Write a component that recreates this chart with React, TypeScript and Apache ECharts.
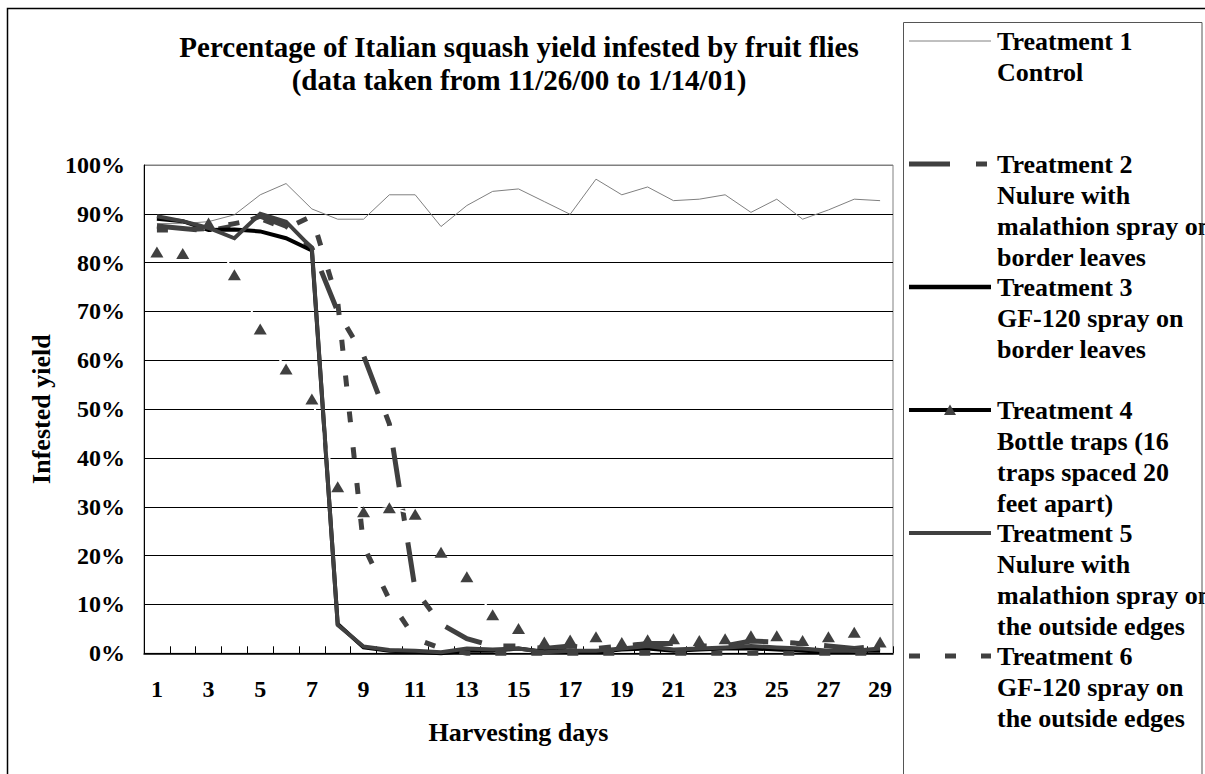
import React, { useEffect, useRef } from "react";
import * as echarts from "echarts";

const FONT = "'Liberation Serif', 'Times New Roman', serif";

const TITLE_LINES = [
  "Percentage of Italian squash yield infested by fruit flies",
  "(data taken from 11/26/00 to 1/14/01)",
];
const X_NAME = "Harvesting days";
const Y_NAME = "Infested yield";

const DAYS = [
  "1", "2", "3", "4", "5", "6", "7", "8", "9", "10",
  "11", "12", "13", "14", "15", "16", "17", "18", "19", "20",
  "21", "22", "23", "24", "25", "26", "27", "28", "29",
];

const T1_CONTROL = [
  88.0, 88.0, 88.4, 89.8, 93.9, 96.2, 91.0, 88.9, 88.9, 93.9,
  93.9, 87.4, 91.7, 94.6, 95.1, 92.5, 89.9, 97.1, 93.9, 95.5,
  92.7, 93.0, 93.9, 90.3, 93.0, 88.9, 90.8, 93.0, 92.7,
];
const T2_NULURE_BORDER = [
  87.5, 87.0, 86.5, 87.5, 89.5, 87.5, 83.0, 70.0, 61.0, 47.0,
  13.0, 6.0, 3.0, 1.5, 1.5, 1.0, 1.5, 1.0, 1.5, 2.0,
  2.0, 1.5, 1.5, 2.5, 2.3, 2.0, 1.5, 1.0, 1.5,
];
const T3_GF120_BORDER = [
  89.0, 88.5, 86.7, 86.8, 86.4, 85.0, 82.5, 6.0, 1.2, 0.5,
  0.3, 0.0, 0.5, 0.5, 1.0, 0.3, 0.5, 0.3, 0.8, 1.0,
  0.5, 0.8, 1.0, 1.0, 0.8, 0.5, 0.3, 0.5, 0.5,
];
const T4_BOTTLE_TRAPS = [
  82.2, 81.9, 88.1, 77.5, 66.4, 58.2, 52.1, 34.1, 29.0, 29.8,
  28.5, 20.7, 15.7, 7.9, 5.1, 2.3, 2.7, 3.4, 2.2, 2.8,
  3.0, 2.6, 3.0, 3.6, 3.6, 2.6, 3.4, 4.3, 2.3,
];
const T5_NULURE_EDGES = [
  89.5, 88.5, 87.1, 85.0, 90.0, 88.4, 83.0, 5.8, 1.4, 0.7,
  0.5, 0.2, 1.0, 0.8, 1.0, 0.2, 0.5, 0.5, 1.0, 1.5,
  0.8, 1.0, 1.2, 1.5, 1.2, 1.0, 0.5, 0.5, 1.0,
];
const T6_GF120_EDGES = [
  86.7, 86.7, 87.0, 88.0, 89.0, 87.0, 89.5, 72.0, 22.0, 11.0,
  3.0, 1.0, 0.0, 0.0, 0.0, 0.0, 0.0, 0.0, 0.0, 0.0,
  0.0, 0.0, 0.0, 0.0, 0.0, 0.0, 0.0, 0.0, 0.0,
];

const SERIES_NAMES = [
  "Treatment 1",
  "Treatment 2",
  "Treatment 3",
  "Treatment 4",
  "Treatment 5",
  "Treatment 6",
];
const LEGEND_TEXT = [
  ["Treatment 1", "Control"],
  ["Treatment 2", "Nulure with", "malathion spray on", "border leaves"],
  ["Treatment 3", "GF-120 spray on", "border leaves"],
  ["Treatment 4", "Bottle traps (16", "traps spaced 20", "feet apart)"],
  ["Treatment 5", "Nulure with", "malathion spray on", "the outside edges"],
  ["Treatment 6", "GF-120 spray on", "the outside edges"],
];

const DARK = "#404040";
const LINE_STYLES = [
  { color: "#808080", width: 1, type: "solid" as any },
  { color: DARK, width: 5, type: [40, 22, 12, 22] as any },
  { color: "#000000", width: 4, type: "solid" as any },
  { color: "#ffffff", width: 2, type: "solid" as any },
  { color: DARK, width: 4, type: "solid" as any },
  { color: DARK, width: 5, type: [11, 25] as any },
];
const LEGEND_LINE_STYLES = [
  { stroke: "#808080", lineWidth: 1, lineDash: null as any },
  { stroke: DARK, lineWidth: 5, lineDash: [41, 26, 11, 26] },
  { stroke: "#000000", lineWidth: 4.5, lineDash: null as any },
  { stroke: "#000000", lineWidth: 4, lineDash: null as any },
  { stroke: DARK, lineWidth: 4, lineDash: null as any },
  { stroke: DARK, lineWidth: 5, lineDash: [11, 25] },
];

export default function App() {
  const ref = useRef<HTMLDivElement>(null);

  useEffect(() => {
    document.body.style.margin = "0";
    const chart = echarts.init(ref.current!, null, { renderer: "svg" });

    const seriesData = [
      T1_CONTROL,
      T2_NULURE_BORDER,
      T3_GF120_BORDER,
      T4_BOTTLE_TRAPS,
      T5_NULURE_EDGES,
      T6_GF120_EDGES,
    ];

    const series = seriesData.map((d, i) => ({
      name: SERIES_NAMES[i],
      type: "line",
      data: d,
      clip: false,
      symbol: i === 3 ? "triangle" : "none",
      symbolSize: [13, 11],
      itemStyle: { color: DARK },
      lineStyle: { ...LINE_STYLES[i], cap: "butt", join: "miter" },
      emphasis: { disabled: true },
    }));

    // legend drawn as a framed box
    const legendEls: any[] = [];
    const entryTop = 41;
    const entryStep = 123;
    const lineH = 31;
    LEGEND_TEXT.forEach((lines, i) => {
      const y = entryTop + entryStep * i;
      legendEls.push({
        type: "line",
        shape: { x1: 909, y1: y, x2: 991, y2: y },
        style: { ...LEGEND_LINE_STYLES[i], fill: null },
        z: 10,
      });
      if (i === 3) {
        legendEls.push({
          type: "polygon",
          shape: { points: [[944, y + 5], [956, y + 5], [950, y - 5.5]] },
          style: { fill: DARK },
          z: 11,
        });
      }
      lines.forEach((t, k) => {
        legendEls.push({
          type: "text",
          x: 997,
          y: y + lineH * k,
          style: {
            text: t,
            font: `bold 26px ${FONT}`,
            fill: "#000",
            textAlign: "left",
            textVerticalAlign: "middle",
          },
          z: 10,
        });
      });
    });

    const gridColors = ["#000", "#000", "#000", "#000", "#000", "#000", "#000", "#000", "#000", "#000", "#808080"];

    chart.setOption({
      animation: false,
      backgroundColor: "#fff",
      title: {
        text: TITLE_LINES.join("\n"),
        left: 519,
        top: 30,
        padding: 0,
        textAlign: "center",
        textStyle: {
          fontFamily: FONT,
          fontSize: 29,
          fontWeight: "bold",
          color: "#000",
          lineHeight: 33,
        },
      },
      grid: {
        left: 144,
        top: 165,
        right: 312,
        bottom: 120.7,
        show: true,
        borderColor: "#808080",
        borderWidth: 1,
        backgroundColor: "transparent",
      },
      xAxis: {
        type: "category",
        data: DAYS,
        boundaryGap: true,
        name: X_NAME,
        nameLocation: "middle",
        nameGap: 66,
        nameTextStyle: { fontFamily: FONT, fontSize: 26, fontWeight: "bold", color: "#000" },
        axisLine: { show: true, lineStyle: { color: "#000", width: 1.5 } },
        axisTick: { show: true, inside: true, length: 7, interval: 0, lineStyle: { color: "#000", width: 1 } },
        axisLabel: {
          interval: 1,
          margin: 24,
          fontFamily: FONT,
          fontSize: 24,
          fontWeight: "bold",
          color: "#000",
        },
        splitLine: { show: false },
      },
      yAxis: {
        type: "value",
        min: 0,
        max: 100,
        interval: 10,
        name: Y_NAME,
        nameLocation: "middle",
        nameGap: 88,
        nameTextStyle: { fontFamily: FONT, fontSize: 26, fontWeight: "bold", color: "#000" },
        axisLine: { show: true, lineStyle: { color: "#000", width: 1 } },
        axisTick: { show: false },
        axisLabel: {
          formatter: "{value}%",
          margin: 19,
          fontFamily: FONT,
          fontSize: 24,
          fontWeight: "bold",
          color: "#000",
        },
        splitLine: { show: true, lineStyle: { color: gridColors, width: 1 } },
      },
      series,
      graphic: [
        {
          type: "rect",
          shape: { x: 7.5, y: 8.5, width: 1400, height: 1000 },
          style: { fill: null, stroke: "#000", lineWidth: 1.5 },
          z: 20,
          silent: true,
        },
        {
          type: "rect",
          shape: { x: 903.5, y: 22.5, width: 298.5, height: 900 },
          style: { fill: null, stroke: "#555", lineWidth: 1 },
          z: 20,
          silent: true,
        },
        ...legendEls,
      ],
    });

    return () => chart.dispose();
  }, []);

  return (
    <div
      ref={ref}
      style={{ width: 1205, height: 774, position: "absolute", left: 0, top: 0 }}
    />
  );
}
